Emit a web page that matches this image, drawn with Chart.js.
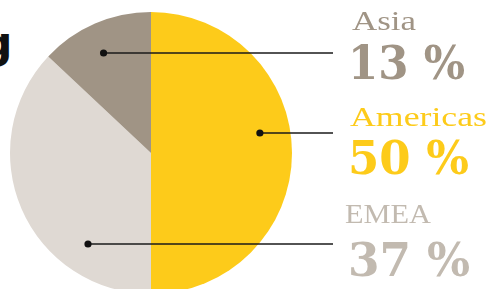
<!DOCTYPE html>
<html>
<head>
<meta charset="utf-8">
<script src="https://cdn.jsdelivr.net/npm/chart.js@4.4.0/dist/chart.umd.min.js"></script>
<style>
  html, body { margin: 0; padding: 0; background: #fff; width: 491px; height: 289px; overflow: hidden; }
  #wrap { position: absolute; left: 0; top: 0; width: 491px; height: 300px; }
  .lbl { position: absolute; white-space: nowrap; transform-origin: 0 0; line-height: 1; }
  .name { font-family: "Liberation Serif", serif; font-size: 28px; }
  .pct { font-family: "DejaVu Serif", serif; font-weight: bold; font-size: 47px; }
  #cut { position: absolute; left: -19px; top: 17px; font-family: "DejaVu Sans", sans-serif; font-weight: bold; font-size: 44px; color: #111; }
</style>
</head>
<body>
<div id="cut">g</div>
<div id="wrap"><canvas id="pie"></canvas></div>
<div id="labels"></div>
<script>
// data
const regions = ['Americas', 'EMEA', 'Asia'];
const shares = [50, 37, 13];
const sliceColors = ['#FDCB1A', '#DFD9D3', '#A09485'];
const textColors = ['#FDCB1A', '#C2BAB0', '#A09485'];

// label layout: leader line y, text top, percent top
const lineY = [133, 244, 53];
const nameTop = [103, 200, 7];
const pctTop = [134, 236, 39];
const lineEndX = 333;

const leaders = {
    id: 'leaders',
    afterDraw(chart) {
        const ctx = chart.ctx;
        const arcs = chart.getDatasetMeta(0).data;
        arcs.forEach((arc, i) => {
            const r = arc.outerRadius * 0.785;
            const mid = (arc.startAngle + arc.endAngle) / 2;
            const side = Math.cos(mid) >= 0 ? 1 : -1;
            const dy = lineY[i] - arc.y;
            const x = arc.x + side * Math.sqrt(Math.max(r * r - dy * dy, 0));
            ctx.save();
            ctx.strokeStyle = '#1a1a1a';
            ctx.lineWidth = 1.6;
            ctx.beginPath();
            ctx.moveTo(x, lineY[i]);
            ctx.lineTo(lineEndX, lineY[i]);
            ctx.stroke();
            ctx.fillStyle = '#111';
            ctx.beginPath();
            ctx.arc(x, lineY[i], 3.6, 0, Math.PI * 2);
            ctx.fill();
            ctx.restore();
        });
    }
};

new Chart(document.getElementById('pie'), {
    type: 'pie',
    data: {
        labels: regions,
        datasets: [{ data: shares, backgroundColor: sliceColors, borderWidth: 0 }]
    },
    options: {
        responsive: true,
        maintainAspectRatio: false,
        animation: false,
        rotation: 0,
        layout: { padding: { left: 10, top: 12, right: 199, bottom: 6 } },
        plugins: { legend: { display: false }, tooltip: { enabled: false } }
    },
    plugins: [leaders]
});

// text labels
const box = document.getElementById('labels');
const nameW = [137, 86, 64];
const nameLeft = [350, 345, 352];
const pctW = [121, 122, 117];
regions.forEach((name, i) => {
    const n = document.createElement('div');
    n.className = 'lbl name';
    n.textContent = name;
    n.style.color = textColors[i];
    n.style.left = nameLeft[i] + 'px';
    n.style.top = nameTop[i] + 'px';
    box.appendChild(n);
    const p = document.createElement('div');
    p.className = 'lbl pct';
    p.textContent = shares[i] + ' %';
    p.style.color = textColors[i];
    p.style.left = '348px';
    p.style.top = pctTop[i] + 'px';
    box.appendChild(p);
    n.style.transform = 'scaleX(' + (nameW[i] / n.getBoundingClientRect().width) + ')';
    p.style.transform = 'scaleX(' + (pctW[i] / p.getBoundingClientRect().width) + ')';
});
</script>
</body>
</html>
